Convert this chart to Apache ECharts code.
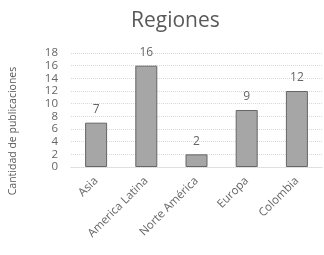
<!DOCTYPE html>
<html><head><meta charset="utf-8">
<script src="https://cdn.jsdelivr.net/npm/echarts@6/dist/echarts.min.js"></script>
<style>html,body{margin:0;padding:0;background:#fff}#c{width:324px;height:255px}</style>
</head><body><div id="c"></div>
<script>
var categories = ['Asia', 'America Latina', 'Norte América', 'Europa', 'Colombia'];
var values = [7, 16, 2, 9, 12];
var yTicks = [0, 2, 4, 6, 8, 10, 12, 14, 16, 18];

var chart = echarts.init(document.getElementById('c'), null, {renderer: 'canvas'});
chart.setOption({
  animation: false,
  title: {text: 'Regiones', left: 126, top: 6,
    textStyle: {fontFamily: 'Open Sans', fontWeight: 'normal', fontSize: 21, color: '#595959'}},
  grid: {left: 70, right: 2, top: 53, bottom: 88},
  xAxis: {type: 'category', data: categories,
    axisLine: {lineStyle: {color: '#d9d9d9', type: 'dotted'}},
    axisTick: {show: false},
    axisLabel: {rotate: 45, color: '#666666', fontFamily: 'Open Sans', fontSize: 11.5, margin: 12, interval: 0}},
  yAxis: {type: 'value', min: 0, max: 18, interval: 2,
    name: 'Cantidad de publicaciones', nameLocation: 'middle', nameGap: 52,
    nameTextStyle: {color: '#595959', fontFamily: 'Open Sans', fontSize: 10.5, padding: [0, 42, 0, 0]},
    axisLine: {show: false}, axisTick: {show: false},
    axisLabel: {color: '#666666', fontFamily: 'Open Sans', fontSize: 11.5, margin: 13,
      formatter: function (v) { return yTicks.indexOf(v) >= 0 ? String(v) : ''; }},
    splitLine: {lineStyle: {color: '#d9d9d9', type: 'dotted'}}},
  series: [{type: 'bar', data: values, barWidth: 22,
    itemStyle: {color: '#a6a6a6', borderColor: '#666666', borderWidth: 1},
    label: {show: true, position: 'top', distance: 7, color: '#666666', fontFamily: 'Open Sans', fontSize: 12}}]
});
</script></body></html>
